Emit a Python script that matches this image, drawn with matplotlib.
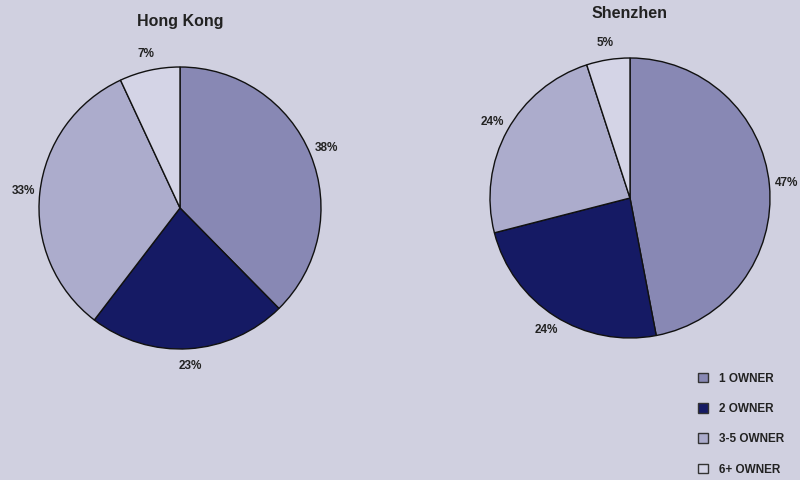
import matplotlib.pyplot as plt
from matplotlib import font_manager
from matplotlib.patches import Patch

# regular-width Liberation Sans (avoid the Narrow variant)
sans_files = [f.fname for f in font_manager.fontManager.ttflist
              if f.name == 'Liberation Sans' and 'Narrow' not in f.fname]
for path in sans_files:
    font_manager.fontManager.addfont(path)
plt.rcParams['font.family'] = ['Liberation Sans', 'DejaVu Sans']
plt.rcParams['font.stretch'] = 'normal'

cities = ['Hong Kong', 'Shenzhen']
owners = ['1 OWNER', '2 OWNER', '3-5 OWNER', '6+ OWNER']
hong_kong = [38, 23, 33, 7]
shenzhen = [47, 24, 24, 5]
colors = ['#8888b4', '#151a64', '#acaccc', '#d4d4e6']

bg = '#d0d0e0'
text_color = '#222222'


def bold_font(size):
    bold = [p for p in sans_files if 'Bold' in p and 'Italic' not in p]
    if bold:
        return font_manager.FontProperties(fname=bold[0], size=size)
    return font_manager.FontProperties(family='Liberation Sans', weight='bold', size=size)


fig = plt.figure(figsize=(8, 4.8), dpi=100, facecolor=bg)
W, H = 800, 480


def pie_axes(cx, cy, r):
    # axes box in pixel terms (y measured from the top)
    return fig.add_axes([(cx - r) / W, 1 - (cy + r) / H, 2 * r / W, 2 * r / H])


def draw_pie(ax, values, title, title_y):
    wedges, labels = ax.pie(values, colors=colors, startangle=90, counterclock=False,
                            labels=[f'{v}%' for v in values], labeldistance=1.12,
                            wedgeprops=dict(edgecolor='#111111', linewidth=1.0))
    for t in labels:
        t.set_fontproperties(bold_font(8.5))
        t.set_color(text_color)
        t.set_ha('center')
    ax.set_xlim(-1, 1)
    ax.set_ylim(-1, 1)
    ax.set_aspect('equal')
    ax.axis('off')
    ax.text(0, title_y, title, ha='center', va='center',
            fontproperties=bold_font(11.5), color=text_color)


ax1 = pie_axes(180, 208, 141)
draw_pie(ax1, hong_kong, cities[0], 1.32)

ax2 = pie_axes(630, 198, 140)
draw_pie(ax2, shenzhen, cities[1], 1.32)

handles = [Patch(facecolor=c, edgecolor='#333333', linewidth=1.0) for c in colors]
leg = fig.legend(handles, owners, loc='upper left', bbox_to_anchor=(687 / W, 1 - 362 / H),
                 frameon=False, handlelength=0.85, handleheight=0.85,
                 handletextpad=1.0, labelspacing=1.55, prop=bold_font(8.5))
for t in leg.get_texts():
    t.set_color(text_color)

fig.savefig('out.png', dpi=100, facecolor=bg)
